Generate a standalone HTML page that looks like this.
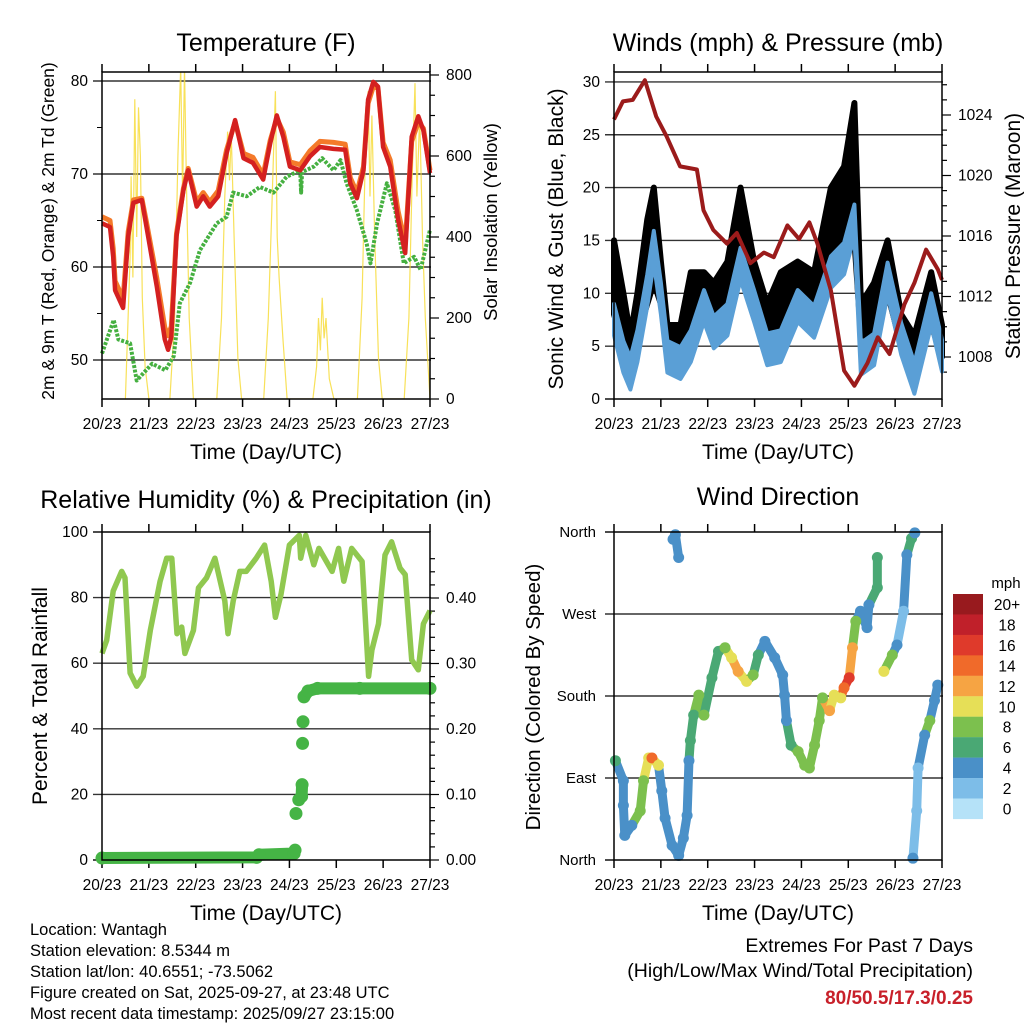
<!DOCTYPE html>
<html><head><meta charset="utf-8"><title>Wantagh station charts</title>
<style>
html,body{margin:0;padding:0;background:#fff;}
svg{display:block;font-family:"Liberation Sans",Arial,sans-serif;}
</style></head>
<body>
<svg id="root" width="1024" height="1024" viewBox="0 0 1024 1024" xmlns="http://www.w3.org/2000/svg">
<rect x="0" y="0" width="1024" height="1024" fill="#fff"/>
<g id="g1"></g>
<g id="g2"></g>
<g id="g3"></g>
<g id="g4"></g>
<g font-size="16.5" fill="#000">
<text x="30" y="935">Location: Wantagh</text>
<text x="30" y="956">Station elevation: 8.5344 m</text>
<text x="30" y="977">Station lat/lon: 40.6551; -73.5062</text>
<text x="30" y="998">Figure created on Sat, 2025-09-27, at 23:48 UTC</text>
<text x="30" y="1019">Most recent data timestamp: 2025/09/27 23:15:00</text>
</g>
<g text-anchor="end">
<text x="973" y="952" font-size="19.5">Extremes For Past 7 Days</text>
<text x="973" y="977" font-size="19.5">(High/Low/Max Wind/Total Precipitation)</text>
<text x="973" y="1004" font-size="19" font-weight="bold" fill="#c8202a">80/50.5/17.3/0.25</text>
</g>
</svg>
<script>
// ---------- data ----------
const dayLabels = ["20/23","21/23","22/23","23/23","24/23","25/23","26/23","27/23"];
const tTemp = [0,0.17,0.24,0.28,0.45,0.56,0.67,0.85,0.95,1.17,1.34,1.41,1.48,1.59,1.74,1.84,2.02,2.16,2.30,2.48,2.66,2.84,3.02,3.22,3.44,3.59,3.73,3.87,4.01,4.23,4.44,4.65,4.94,5.19,5.30,5.44,5.58,5.68,5.79,5.89,6.00,6.15,6.32,6.47,6.61,6.75,6.86,7.0];
const temp2m = [64.7,64.3,61.1,57.5,55.6,63.3,66.9,67.2,64.3,57.9,52.2,51.1,52.5,63.3,68.3,70.4,66.5,67.6,66.5,67.6,72.2,75.8,71.7,71.2,69.4,73.3,76.3,74.0,70.8,70.4,71.9,72.9,72.7,72.6,69.0,67.4,70.4,78.0,79.9,79.4,72.9,70.8,65.1,61.5,74.0,76.2,74.7,70.1];
const temp9m = [65.4,65.0,62.0,58.5,56.6,63.8,67.2,67.4,64.8,58.8,53.5,52.6,53.6,63.6,68.5,70.6,67.0,68.0,67.0,68.2,72.6,75.6,72.2,71.8,69.9,73.6,76.0,74.5,71.3,71.0,72.5,73.5,73.4,73.2,69.6,68.0,70.8,77.6,79.4,79.2,73.4,71.5,66.0,62.5,73.5,75.6,74.9,70.4];
const tDew = [0,0.25,0.35,0.6,0.74,1.07,1.35,1.53,1.66,1.88,2.09,2.45,2.66,2.80,3.09,3.37,3.66,3.94,4.23,4.25,4.27,4.52,4.70,4.94,5.09,5.22,5.44,5.65,5.73,5.87,6.08,6.26,6.44,6.66,6.80,7.0];
const dewPt = [50.7,54.3,52.2,51.8,47.8,49.6,48.9,50.4,56.1,58.3,61.8,64.7,65.4,68.0,67.6,68.6,68.0,69.7,70.4,68.0,70.2,70.8,71.7,70.4,71.5,69.0,66.1,62.5,60.4,64.7,69.0,66.1,60.4,61.1,59.7,64.0];
const tSolar = [0.5,0.6,0.62,0.66,0.7,0.74,0.78,0.82,0.86,0.92,1.0,1.45,1.55,1.62,1.68,1.72,1.76,1.80,1.86,1.95,2.45,2.55,2.62,2.68,2.72,2.76,2.82,2.9,2.98,3.45,3.55,3.62,3.7,3.74,3.78,3.86,3.95,4.5,4.58,4.62,4.66,4.7,4.74,4.78,4.85,4.95,5.45,5.55,5.62,5.68,5.72,5.76,5.82,5.9,5.98,6.45,6.55,6.62,6.68,6.72,6.78,6.84,6.9,7.0];
const solar = [0,350,550,300,740,400,720,600,250,80,0,0,200,600,820,500,820,550,200,0,0,200,500,660,540,650,400,100,0,0,200,450,760,400,300,150,0,0,80,200,120,250,150,200,50,0,0,250,600,760,500,700,400,100,0,0,200,550,780,500,700,400,200,0];
const tWind = [0,0.2,0.35,0.5,0.71,0.85,1.0,1.14,1.42,1.64,1.92,2.13,2.42,2.7,2.99,3.27,3.56,3.92,4.27,4.63,4.91,5.13,5.27,5.55,5.84,6.13,6.41,6.77,7.0];
const windSpd = [7.8,4.3,2.7,5.3,10.6,14.7,9.8,4.3,3.7,5.3,9.1,6.6,7.8,13.1,9.1,5.0,5.3,9.1,7.6,12.3,13.6,17.2,4.1,5.0,11.7,6.0,2.2,8.8,4.4];
const gustLow = [8,5,4,6,9,11,9,5,4.5,6,8,7,8,12,8,5,6,8,8,11,13,15,6,6,10,5,3,7,4];
const gustHigh = [15,10,6,10,17,20,13,7,7,12,12,11,13,20,13,9,12,13,12,20,22,28,9,11,15,8,6,12,7];
const tPres = [0,0.19,0.4,0.66,0.9,1.12,1.41,1.77,1.91,2.12,2.41,2.62,2.91,3.2,3.41,3.7,3.95,4.17,4.34,4.63,4.91,5.13,5.41,5.63,5.88,6.2,6.41,6.66,6.91,7.0];
const pressure = [1023.7,1024.9,1025.0,1026.3,1023.9,1022.6,1020.6,1020.4,1017.7,1016.4,1015.5,1016.2,1014.2,1014.9,1014.6,1016.7,1015.8,1016.9,1015.5,1012.4,1007.1,1006.1,1007.6,1009.3,1008.2,1011.5,1012.9,1015.1,1013.8,1013.1];
const tRH = [0,0.1,0.24,0.42,0.49,0.6,0.74,0.88,1.03,1.24,1.38,1.49,1.6,1.7,1.77,1.95,2.06,2.23,2.41,2.62,2.69,2.8,2.94,3.08,3.29,3.47,3.61,3.7,3.82,4.0,4.21,4.24,4.35,4.52,4.63,4.91,5.05,5.16,5.33,5.55,5.69,5.76,5.9,6.04,6.18,6.36,6.47,6.61,6.75,6.86,7.0];
const relHum = [63,67,82,88,86,57,53,56,70,85,92,92,69,71,63,70,83,86,92,79,69,79,88,88,92,96,85,74,81,96,99,92,99,90,95,88,95,85,95,91,56,64,72,93,97,89,87,61,58,72,76];
const tPrecip = [0,3.3,3.35,4.1,4.12,4.14,4.2,4.26,4.27,4.28,4.29,4.31,4.4,4.6,5.5,7.0];
const precip = [0.003,0.004,0.008,0.01,0.015,0.071,0.092,0.097,0.115,0.178,0.211,0.249,0.258,0.262,0.262,0.262];
const tDir = [0.03,0.2,0.2,0.23,0.38,0.56,0.63,0.74,0.81,0.95,1.02,1.09,1.24,1.38,1.48,1.56,1.6,1.63,1.7,1.81,1.92,2.09,2.23,2.37,2.51,2.65,2.83,2.97,3.08,3.22,3.43,3.6,3.64,3.68,3.78,3.93,4.07,4.17,4.28,4.38,4.45,4.6,4.7,4.84,4.91,5.02,5.09,5.16,5.26,5.4,5.44,5.62,5.62,5.76,5.94,6.04,6.18,6.25,6.35,6.42,6.38,6.46,6.49,6.63,6.74,6.84,6.91,1.31,1.38,1.26];
const windDir = [109,87,60,27,38,54,87,112,112,104,76,46,16,5,24,49,109,131,159,181,159,200,229,233,222,207,196,203,225,240,222,203,181,153,126,119,104,101,126,153,178,164,181,178,189,200,233,262,273,255,280,299,332,207,225,236,273,335,353,359,2,54,101,137,153,175,192,357,332,352];
const dirSpeed = [6,4,4,4,4,7,8,10,14,9,4,4,4,4,3,3,4,6,6,7,7,6,6,7,10,12,10,7,6,4,3,4,4,4,6,8,7,7,7,7,7,12,10,10,13,16,12,7,4,3,4,6,6,10,7,4,2,4,5,4,4,2,2,4,8,4,3,4,4,4];
const speedBins = ["0","2","4","6","8","10","12","14","16","18","20+"];
const speedColors = ["#b5e2f8","#7dbde8","#4a90c8","#4aa874","#7cc04e","#e6df57","#f6a443","#f06a2a","#df3a2b","#c0202a","#981a1e"];

// ---------- helpers ----------
const NS = "http://www.w3.org/2000/svg";
const TICK = 15.5;
function el(tag, parent){ const e=document.createElementNS(NS,tag); parent.appendChild(e); return e; }
function setA(e, o){ for(const k in o) e.setAttribute(k,o[k]); return e; }
function txt(parent, x, y, s, size, anchor, extra){
  const t=el("text",parent); setA(t,{x:x,y:y,"font-size":size,"text-anchor":anchor||"start",fill:"#000"});
  if(extra) setA(t,extra); t.textContent=s; return t;
}
function line(parent,x1,y1,x2,y2,col,w){ return setA(el("line",parent),{x1:x1,y1:y1,x2:x2,y2:y2,stroke:col,"stroke-width":w}); }

function frame(g, P, title, xtitle){
  const t=txt(g,(P.x0+P.x1)/2,P.titleY,title,25,"middle");
  
  
  const xt=txt(g,(P.x0+P.x1)/2,P.y1+60,xtitle,21,"middle");
  
  
  for(let i=0;i<=7;i++){
    const x=P.xs(i);
    line(g,x,P.y1,x,P.y1+8,"#000",1.5);
    line(g,x,P.y0,x,P.y0-8,"#000",1.5);
    const l=txt(g,x,P.y1+30,dayLabels[i],TICK,"middle");
    
    
  }
}
function box(g,P){
  const r=el("rect",g); setA(r,{x:P.x0,y:P.y0,width:P.x1-P.x0,height:P.y1-P.y0,fill:"none",stroke:"#000","stroke-width":1.5});
  
  
}
function grid(g,P,y){ line(g,P.x0-9,y,P.x1+1,y,"#333",1.4); }
function pathFrom(ts, vs, xs, ys){
  let d=""; for(let i=0;i<ts.length;i++){ d+=(i?"L":"M")+xs(ts[i]).toFixed(1)+","+ys(vs[i]).toFixed(1); } return d;
}

// ---------- Panel 1: temperature ----------
(function(){
  const g=document.getElementById("g1");
  const P={x0:102,x1:430,y0:72,y1:399,titleY:51};
  P.xs=d=>P.x0+d*(P.x1-P.x0)/7;
  const ys=v=>81+(80-v)*9.3;
  const ysol=s=>399-s*0.405;
  frame(g,P,"Temperature (F)","Time (Day/UTC)");
  [50,60,70,80].forEach(v=>{ grid(g,P,ys(v)); const l=txt(g,P.x0-14,ys(v)+5,String(v),TICK,"end");
      });
  for(let v=50;v<=80;v+=5){ if(v%10) line(g,P.x0,ys(v),P.x0-5,ys(v),"#000",1); }
  for(let s=0;s<=800;s+=50){ const y=ysol(s); line(g,P.x1,y,P.x1+(s%200?5:9),y,"#000",1.2);
    if(s%200===0){ const l=txt(g,P.x1+16,y+5,String(s),TICK,"start");   } }
  const cp=el("clipPath",g); cp.setAttribute("id","c1"); setA(el("rect",cp),{x:P.x0,y:P.y0,width:P.x1-P.x0,height:P.y1-P.y0});
  const s=el("path",g); setA(s,{d:pathFrom(tSolar,solar,P.xs,ysol),fill:"none",stroke:"#f7dc3c","stroke-width":1.2,"stroke-opacity":0.85,"clip-path":"url(#c1)"});
   
  const dw=el("path",g); setA(dw,{d:pathFrom(tDew,dewPt,P.xs,ys),fill:"none",stroke:"#45b040","stroke-width":4,"stroke-dasharray":"3 1.5","stroke-linejoin":"round"});
   
  const o=el("path",g); setA(o,{d:pathFrom(tTemp,temp9m,P.xs,ys),fill:"none",stroke:"#f47a2a","stroke-width":5,"stroke-linejoin":"round"});
   
  const r=el("path",g); setA(r,{d:pathFrom(tTemp,temp2m,P.xs,ys),fill:"none",stroke:"#d42020","stroke-width":4.5,"stroke-linejoin":"round"});
   
  box(g,P);
  const a=txt(g,0,0,"2m & 9m T (Red, Orange) & 2m Td (Green)",17.5,"middle",{transform:"translate(54,231) rotate(-90)"});
   
  const b=txt(g,0,0,"Solar Insolation (Yellow)",18.5,"middle",{transform:"translate(497,222) rotate(-90)"});
   
})();

// ---------- Panel 2: winds ----------
(function(){
  const g=document.getElementById("g2");
  const P={x0:614,x1:942,y0:72,y1:399,titleY:51};
  P.xs=d=>P.x0+d*(P.x1-P.x0)/7;
  const ys=v=>399-v*10.57;
  const yp=p=>115+(1024-p)*15.125;
  frame(g,P,"Winds (mph) & Pressure (mb)","Time (Day/UTC)");
  for(let v=0;v<=30;v+=5){ if(v) grid(g,P,ys(v)); else line(g,P.x0-9,ys(v),P.x0,ys(v),"#000",1.4);
    const l=txt(g,P.x0-14,ys(v)+5,String(v),TICK,"end");   }
  for(let p=1007;p<=1027;p++){ const y=yp(p); if(y<P.y0||y>P.y1) continue; line(g,P.x1,y,P.x1+(p%4?5:9),y,"#000",1.2);
    if(p%4===0){ const l=txt(g,P.x1+16,y+5,String(p),TICK,"start");   } }
  let d=""; for(let i=0;i<tWind.length;i++) d+=(i?"L":"M")+P.xs(tWind[i]).toFixed(1)+","+ys(gustHigh[i]).toFixed(1);
  for(let i=tWind.length-1;i>=0;i--) d+="L"+P.xs(tWind[i]).toFixed(1)+","+ys(gustLow[i]).toFixed(1);
  const gb=el("path",g); setA(gb,{d:d+"Z",fill:"#000",stroke:"#000","stroke-width":6,"stroke-linejoin":"round"});
   
  let d2=""; for(let i=0;i<tWind.length;i++) d2+=(i?"L":"M")+P.xs(tWind[i]).toFixed(1)+","+ys(windSpd[i]+1.2).toFixed(1);
  for(let i=tWind.length-1;i>=0;i--) d2+="L"+P.xs(tWind[i]).toFixed(1)+","+ys(Math.max(0.5,windSpd[i]-1.8)).toFixed(1);
  const wb=el("path",g); setA(wb,{d:d2+"Z",fill:"#5a9fd6",stroke:"#5a9fd6","stroke-width":4,"stroke-linejoin":"round"});
   
  const pr=el("path",g); setA(pr,{d:pathFrom(tPres,pressure,P.xs,yp),fill:"none",stroke:"#9b1b1b","stroke-width":4,"stroke-linejoin":"round"});
   
  box(g,P);
  const a=txt(g,0,0,"Sonic Wind & Gust (Blue, Black)",21,"middle",{transform:"translate(563,239) rotate(-90)"});
   
  const b=txt(g,0,0,"Station Pressure (Maroon)",21,"middle",{transform:"translate(1020,236) rotate(-90)"});
   
})();

// ---------- Panel 3: RH & precip ----------
(function(){
  const g=document.getElementById("g3");
  const P={x0:102,x1:430,y0:532,y1:860,titleY:508};
  P.xs=d=>P.x0+d*(P.x1-P.x0)/7;
  const ys=v=>860-v*3.28;
  const ypr=p=>860-p*655;
  frame(g,P,"Relative Humidity (%) & Precipitation (in)","Time (Day/UTC)");
  for(let v=0;v<=100;v+=20){ if(v&&v<100) grid(g,P,ys(v)); else line(g,P.x0-9,ys(v),P.x0,ys(v),"#000",1.4);
    const l=txt(g,P.x0-14,ys(v)+5,String(v),TICK,"end");   }
  for(let k=0;k<=23;k++){ const p=k*0.02; const y=ypr(p); if(y<P.y0) continue; line(g,P.x1,y,P.x1+(k%5?5:9),y,"#000",1.2);
    if(k%5===0){ const l=txt(g,P.x1+16,y+5,p.toFixed(2),TICK,"start");   } }
  const rh=el("path",g); setA(rh,{d:pathFrom(tRH,relHum,P.xs,ys),fill:"none",stroke:"#90c850","stroke-width":5.5,"stroke-linejoin":"round"});
   
  let d=""; for(let i=0;i<tPrecip.length;i++){ const jump=i>0&&(precip[i]-precip[i-1])>0.02; d+=((i===0||jump)?"M":"L")+P.xs(tPrecip[i]).toFixed(1)+","+ypr(precip[i]).toFixed(1); }
  const pl=el("path",g); setA(pl,{d:d,fill:"none",stroke:"#45b445","stroke-width":12,"stroke-linecap":"round","stroke-linejoin":"round"});
   
  for(let i=0;i<tPrecip.length;i++){ const c=el("circle",g); setA(c,{cx:P.xs(tPrecip[i]),cy:ypr(precip[i]),r:6.5,fill:"#45b445"});
      }
  box(g,P);
  const a=txt(g,0,0,"Percent & Total Rainfall",21,"middle",{transform:"translate(47,696) rotate(-90)"});
   
})();

// ---------- Panel 4: wind direction ----------
(function(){
  const g=document.getElementById("g4");
  const P={x0:614,x1:942,y0:532,y1:860,titleY:505};
  P.xs=d=>P.x0+d*(P.x1-P.x0)/7;
  const ys=v=>860-v*(328/360);
  frame(g,P,"Wind Direction","Time (Day/UTC)");
  const names=["North","East","South","West","North"];
  names.forEach((n,i)=>{ const y=ys(i*90); if(i>0&&i<4) grid(g,P,y); else line(g,P.x0-9,y,P.x0,y,"#000",1.4);
    const l=txt(g,P.x0-18,y+5,n,15,"end");   });
  const col=s=>speedColors[Math.min(10,Math.max(0,Math.round(s/2)))];
  for(let i=1;i<tDir.length;i++){
    if(Math.abs(windDir[i]-windDir[i-1])>120||Math.abs(tDir[i]-tDir[i-1])>0.3||tDir[i]<tDir[i-1]) continue;
    const s=el("line",g); setA(s,{x1:P.xs(tDir[i-1]),y1:ys(windDir[i-1]),x2:P.xs(tDir[i]),y2:ys(windDir[i]),stroke:col(dirSpeed[i]),"stroke-width":9,"stroke-linecap":"round"});
     
  }
  for(let i=0;i<tDir.length;i++){
    const c=el("circle",g); setA(c,{cx:P.xs(tDir[i]),cy:ys(windDir[i]),r:5.5,fill:col(dirSpeed[i])});
     
  }
  box(g,P);
  const a=txt(g,0,0,"Direction (Colored By Speed)",20.5,"middle",{transform:"translate(540,697) rotate(-90)"});
   
  const lt=txt(g,1006,588,"mph",15,"middle");  
  for(let i=0;i<speedBins.length;i++){
    const k=speedBins.length-1-i; const y=594+i*20.45;
    const r=el("rect",g); setA(r,{x:953,y:y,width:30,height:20.6,fill:speedColors[k]});
     
    const l=txt(g,1007,y+16,speedBins[k],15.5,"middle");  
  }
})();
</script>
</body></html>
